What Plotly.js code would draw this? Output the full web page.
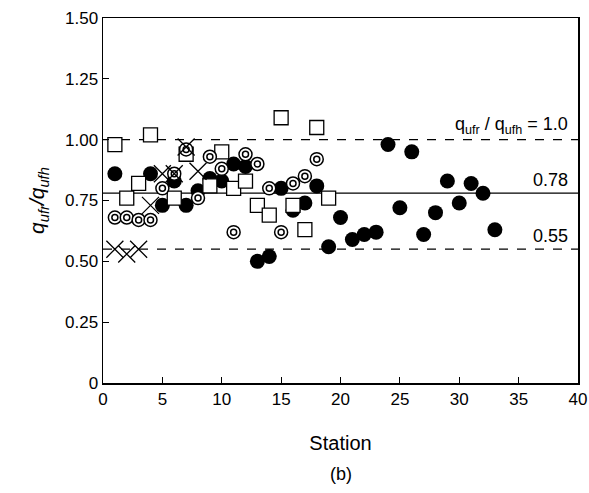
<!DOCTYPE html>
<html>
<head>
<meta charset="utf-8">
<script src="https://cdn.plot.ly/plotly-3.0.1.min.js"></script>
<style>html,body{margin:0;padding:0;background:#fff;}#chart{width:589px;height:493px;}</style>
</head>
<body>
<div id="chart"></div>
<script>
// Filled circles
var filledX = [1, 4, 5, 6, 7, 8, 9, 10, 11, 12, 13, 14, 15, 16, 17, 18, 19, 20, 21, 22, 23, 24, 25, 26, 27, 28, 29, 30, 31, 32, 33];
var filledY = [0.86, 0.86, 0.73, 0.83, 0.73, 0.79, 0.84, 0.83, 0.90, 0.89, 0.50, 0.52, 0.80, 0.71, 0.74, 0.81, 0.56, 0.68, 0.59, 0.61, 0.62, 0.98, 0.72, 0.95, 0.61, 0.70, 0.83, 0.74, 0.82, 0.78, 0.63];
// Open squares
var squareX = [1, 2, 3, 4, 6, 7, 9, 10, 11, 12, 13, 14, 15, 16, 17, 18, 19];
var squareY = [0.98, 0.76, 0.82, 1.02, 0.76, 0.94, 0.81, 0.95, 0.80, 0.83, 0.73, 0.69, 1.09, 0.73, 0.63, 1.05, 0.76];
// Double circles
var ringX = [1, 2, 3, 4, 5, 6, 7, 8, 9, 10, 11, 12, 13, 14, 15, 16, 17, 18];
var ringY = [0.68, 0.68, 0.67, 0.67, 0.80, 0.86, 0.96, 0.76, 0.93, 0.88, 0.62, 0.94, 0.90, 0.80, 0.62, 0.82, 0.85, 0.92];
// Crosses
var crossX = [1, 2, 3, 4, 5, 6, 7, 8];
var crossY = [0.55, 0.53, 0.55, 0.73, 0.86, 0.86, 0.97, 0.87];
// Reference lines
var refValues = [1.0, 0.78, 0.55];
var refDash = ['dash', 'solid', 'dash'];
var refLabels = ['q<sub>ufr</sub> / q<sub>ufh</sub> = 1.0', '0.78', '0.55'];
// Axis ticks
var xTickVals = [0, 5, 10, 15, 20, 25, 30, 35, 40];
var yTickVals = [0, 0.25, 0.5, 0.75, 1.0, 1.25, 1.5];
var yTickText = ['0', '0.25', '0.50', '0.75', '1.00', '1.25', '1.50'];

var F = 'Liberation Sans, Arial, sans-serif';

var traces = [
  {x: filledX, y: filledY, type: 'scatter', mode: 'markers', cliponaxis: false,
   marker: {symbol: 'circle', size: 15, color: '#000', line: {width: 0}}},
  {x: squareX, y: squareY, type: 'scatter', mode: 'markers', cliponaxis: false,
   marker: {symbol: 'square', size: 14, color: '#fff', line: {width: 1.3, color: '#000'}}},
  {x: ringX, y: ringY, type: 'scatter', mode: 'markers', cliponaxis: false,
   marker: {symbol: 'circle', size: 13, color: '#fff', line: {width: 1.5, color: '#000'}}},
  {x: ringX, y: ringY, type: 'scatter', mode: 'markers', cliponaxis: false,
   marker: {symbol: 'circle-open', size: 6, color: '#000', line: {width: 1.5, color: '#000'}}},
  {x: crossX, y: crossY, type: 'scatter', mode: 'markers', cliponaxis: false,
   marker: {symbol: 'x-thin-open', size: 17, color: '#000', line: {width: 1.3, color: '#000'}}}
];

var shapes = refValues.map(function(v, i) {
  return {type: 'line', xref: 'paper', yref: 'y', x0: 0, x1: 1, y0: v, y1: v, layer: 'below',
          line: {color: '#000', width: 1.2, dash: refDash[i]}};
});

var annotations = refValues.map(function(v, i) {
  return {xref: 'x', yref: 'y', x: 39.3, y: v, text: refLabels[i], showarrow: false,
          xanchor: 'right', yanchor: 'bottom', yshift: 1, font: {family: F, size: 18, color: '#000'}};
});
annotations.push({xref: 'paper', yref: 'paper', x: 0.5, y: 0, yshift: -91, text: '(b)', showarrow: false,
  xanchor: 'center', yanchor: 'middle', font: {family: F, size: 18, color: '#000'}});

var layout = {
  width: 589, height: 493,
  margin: {l: 103, r: 11, t: 18, b: 110},
  paper_bgcolor: '#fff', plot_bgcolor: '#fff',
  showlegend: false,
  font: {family: F, size: 17, color: '#000'},
  xaxis: {range: [0, 40], tickvals: xTickVals, ticks: 'inside', ticklen: 6, tickcolor: '#000', tickwidth: 1.2,
          showline: true, linecolor: '#000', linewidth: 1.5, mirror: true, showgrid: false, zeroline: false,
          tickfont: {family: F, size: 17, color: '#000'},
          title: {text: 'Station', font: {family: F, size: 20, color: '#000'}, standoff: 28}},
  yaxis: {range: [0, 1.5], tickvals: yTickVals, ticktext: yTickText, ticks: 'inside', ticklen: 6, tickcolor: '#000', tickwidth: 1.2,
          showline: true, linecolor: '#000', linewidth: 1.5, mirror: true, showgrid: false, zeroline: false,
          tickfont: {family: F, size: 17, color: '#000'},
          title: {text: '<i>q<sub>ufr</sub>/q<sub>ufh</sub></i>', font: {family: F, size: 21, color: '#000'}, standoff: 14}},
  shapes: shapes,
  annotations: annotations
};

Plotly.newPlot('chart', traces, layout, {displayModeBar: false, staticPlot: true});
</script>
</body>
</html>
